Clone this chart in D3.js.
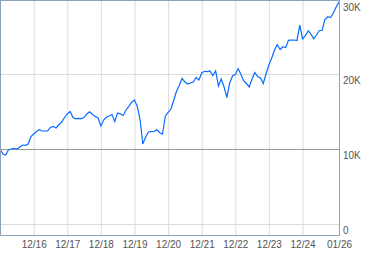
<!DOCTYPE html>
<html>
<head>
<meta charset="utf-8">
<script src="https://cdn.jsdelivr.net/npm/d3@7"></script>
<style>
  body { margin: 0; background: #fff; }
  svg { display: block; }
  .axis text { font-family: "Liberation Sans", Arial, sans-serif; font-size: 10px; fill: #555; }
</style>
</head>
<body>
<svg id="chart" width="379" height="255"></svg>
<script>
// growth of 10K, monthly from Dec 2015
const startMonth = "2015-12";
const values = [
  10000, 9330, 9200, 9870, 10000, 10100, 10000, 10230, 10530, 10490, 10630, 11670,
  12000, 12330, 12560, 12400, 12400, 12400, 12870, 13000, 12800, 13230, 13600, 14200,
  14670, 15000, 14200, 14030, 14080, 14050, 14200, 14670, 14970, 14600, 14330, 14130,
  13070, 13870, 14270, 14400, 14600, 13670, 14800, 14690, 14470, 15200, 15670, 16230,
  16530, 15670, 13870, 10670, 11600, 12270, 12310, 12330, 12600, 12170, 12000, 14400,
  14870, 15330, 16530, 17670, 18470, 19400, 18960, 18670, 18800, 18930, 19530, 19200,
  20130, 20360, 20330, 20400, 19800, 20400, 18400, 19330, 18270, 16870, 18800, 19730,
  19930, 20730, 19930, 19100, 18730, 18270, 19330, 20200, 19670, 19470, 18730, 20070,
  21200, 22130, 23200, 23930, 23270, 23630, 23530, 24490, 24530, 24530, 24470, 26530,
  24670, 25130, 25760, 25330, 24690, 25200, 25800, 25800, 27270, 27640, 27530, 28130,
  28930, 29640
];
const xTickDates = ["2016-12", "2017-12", "2018-12", "2019-12", "2020-12", "2021-12", "2022-12", "2023-12", "2024-12", "2026-01"];
const yTicks = [0, 10000, 20000, 30000];
const baseline = 10000;

const svg = d3.select("#chart");
const plot = { left: 0, top: 0, right: 339, bottom: 235 };
const parseMonth = d3.timeParse("%Y-%m");

const start = parseMonth(startMonth);
const data = values.map((v, i) => ({ date: d3.timeMonth.offset(start, i), value: v }));

const x = d3.scaleTime()
  .domain(d3.extent(data, d => d.date))
  .range([plot.left, plot.right]);

const y = d3.scaleLinear()
  .domain([-1467, 29867])
  .range([plot.bottom, plot.top]);

// gridlines
svg.append("g")
  .attr("transform", `translate(0,${plot.bottom})`)
  .call(d3.axisBottom(x).tickValues(xTickDates.map(parseMonth)).tickSize(-(plot.bottom - plot.top)).tickFormat(""))
  .call(g => g.select(".domain").remove())
  .call(g => g.selectAll("line").attr("stroke", "#dcdcdc"));

svg.append("g")
  .attr("transform", `translate(${plot.left},0)`)
  .call(d3.axisLeft(y).tickValues(yTicks).tickSize(-(plot.right - plot.left)).tickFormat(""))
  .call(g => g.select(".domain").remove())
  .call(g => g.selectAll("line").attr("stroke", "#dcdcdc"));

// baseline at the starting value
svg.append("line")
  .attr("x1", plot.left).attr("x2", plot.right)
  .attr("y1", Math.round(y(baseline)) + 0.5).attr("y2", Math.round(y(baseline)) + 0.5)
  .attr("stroke", "#999");

svg.append("path")
  .datum(data)
  .attr("fill", "none")
  .attr("stroke", "#0a6cff")
  .attr("stroke-width", 1.2)
  .attr("d", d3.line().x(d => x(d.date)).y(d => y(d.value)));

// frame
svg.append("rect")
  .attr("x", plot.left + 0.5).attr("y", plot.top + 0.5)
  .attr("width", plot.right - plot.left).attr("height", plot.bottom - plot.top)
  .attr("fill", "none")
  .attr("stroke", "#8ea2c0");

// labels
svg.append("g")
  .attr("class", "axis")
  .attr("transform", `translate(0,${plot.bottom})`)
  .call(d3.axisBottom(x).tickValues(xTickDates.map(parseMonth)).tickSize(0).tickPadding(6).tickFormat(d3.timeFormat("%m/%y")))
  .call(g => g.select(".domain").remove());

svg.append("g")
  .attr("class", "axis")
  .attr("transform", `translate(${plot.right},0)`)
  .call(d3.axisRight(y).tickValues(yTicks).tickSize(0).tickPadding(4)
    .tickFormat(d => d === 0 ? "0" : d / 1000 + "K"))
  .call(g => g.select(".domain").remove())
  .call(g => g.selectAll("text").attr("dy", "0.95em").attr("y", d => d === 30000 ? 2 : 0));
</script>
</body>
</html>
